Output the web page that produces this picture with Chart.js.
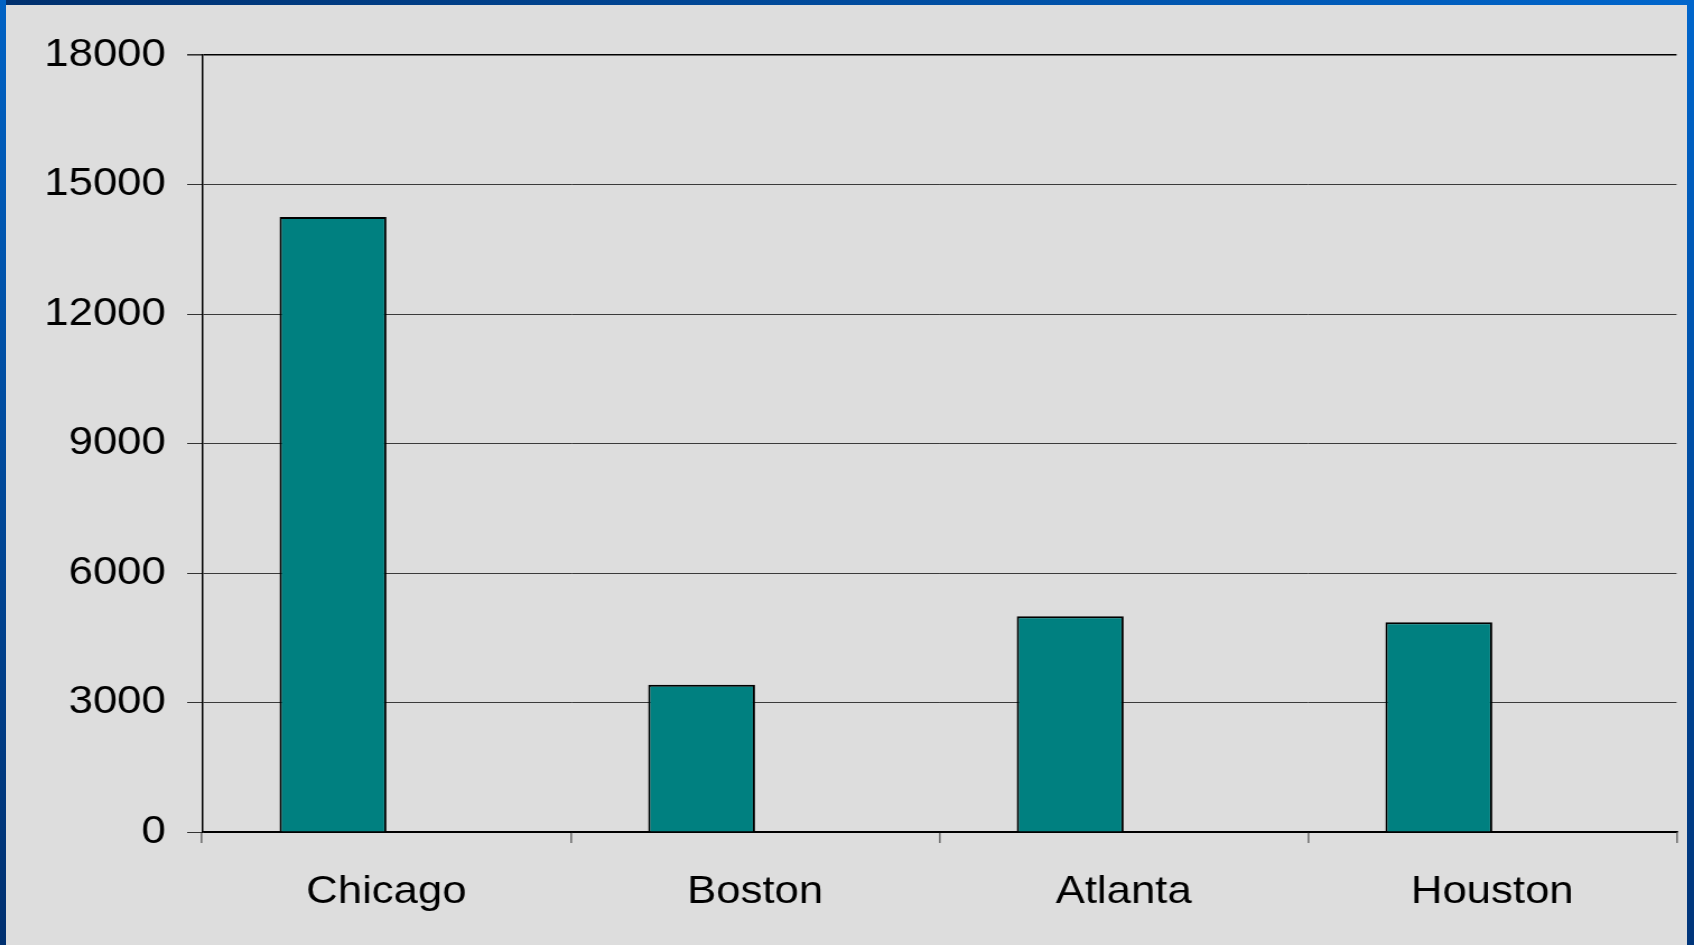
<!DOCTYPE html>
<html>
<head>
<meta charset="utf-8">
<script src="https://cdn.jsdelivr.net/npm/chart.js@4.4.1/dist/chart.umd.min.js"></script>
<style>
  html, body { margin: 0; padding: 0; overflow: hidden; background: #dddddd; }
  #frame-top { position: absolute; left: 0; top: 0; width: 1694px; height: 5px; background: linear-gradient(to right, #00306e, #0066cc); z-index: 2; }
  #frame-left { position: absolute; left: 0; top: 0; width: 6px; height: 945px; background: linear-gradient(to bottom, #0062c4, #003070); z-index: 2; }
  #frame-right { position: absolute; right: 0; top: 0; width: 7px; height: 945px; background: linear-gradient(to bottom, #0066cc, #00357a); z-index: 2; }
  #salesChart { position: absolute; left: 0; top: 0; transform: scaleX(1.1204); transform-origin: 0 0; }
</style>
</head>
<body>
<div id="frame-top"></div>
<div id="frame-left"></div>
<div id="frame-right"></div>
<canvas id="salesChart" width="1512" height="945" style="width:1512px;height:945px"></canvas>
<script>
// Categories and values
const cityLabels = ['Chicago', 'Boston', 'Atlanta', 'Houston'];
const cityValues = [14250, 3410, 5000, 4860];
// second series slot is empty, keeps the bars left of centre
const emptySeries = [null, null, null, null];
const yTicks = [0, 3000, 6000, 9000, 12000, 15000, 18000];

const labelFont = { family: 'Arial, "Liberation Sans", sans-serif', size: 39 };

const data = {
    labels: cityLabels,
    datasets: [
        {
            label: 'Series 1',
            data: cityValues,
            backgroundColor: '#008080',
            borderColor: '#000000',
            borderWidth: 2,
            borderSkipped: 'bottom'
        },
        {
            label: 'Series 2',
            data: emptySeries,
            backgroundColor: '#993366'
        }
    ]
};

const config = {
    type: 'bar',
    data: data,
    options: {
        responsive: false,
        animation: false,
        devicePixelRatio: 1,
        layout: {
            padding: { top: 55, right: 15.6, left: 0, bottom: 0 }
        },
        plugins: {
            legend: { display: false },
            tooltip: { enabled: false }
        },
        datasets: {
            bar: { categoryPercentage: 0.58, barPercentage: 1 }
        },
        scales: {
            x: {
                offset: true,
                border: { display: true, color: '#000000', width: 1.5 },
                grid: {
                    offset: true,
                    drawOnChartArea: true,
                    // only the right edge of the plot gets a line
                    color: ctx => ctx.index === cityLabels.length ? '#808080' : 'rgba(0,0,0,0)',
                    lineWidth: 1.8,
                    tickColor: '#333333',
                    tickWidth: 1,
                    tickLength: 11
                },
                ticks: {
                    color: '#000000',
                    font: labelFont,
                    padding: 26,
                    maxRotation: 0
                },
                afterFit: scale => { scale.height = 113; }
            },
            y: {
                min: 0,
                max: 18000,
                border: { display: true, color: '#000000', width: 1.5 },
                grid: {
                    color: ctx => (ctx.tick && (ctx.tick.value === 18000 || ctx.tick.value === 0)) ? '#000000' : '#3a3a3a',
                    lineWidth: ctx => (ctx.tick && ctx.tick.value === 18000) ? 1.6 : 1,
                    tickColor: '#333333',
                    tickLength: 13.4
                },
                ticks: {
                    color: '#000000',
                    font: labelFont,
                    padding: 19,
                    stepSize: 3000,
                    callback: value => String(value)
                },
                afterBuildTicks: scale => {
                    scale.ticks = yTicks.map(v => ({ value: v }));
                },
                afterFit: scale => { scale.width = 180.4; }
            }
        }
    }
};

const ctx = document.getElementById('salesChart').getContext('2d');
new Chart(ctx, config);
</script>
</body>
</html>
